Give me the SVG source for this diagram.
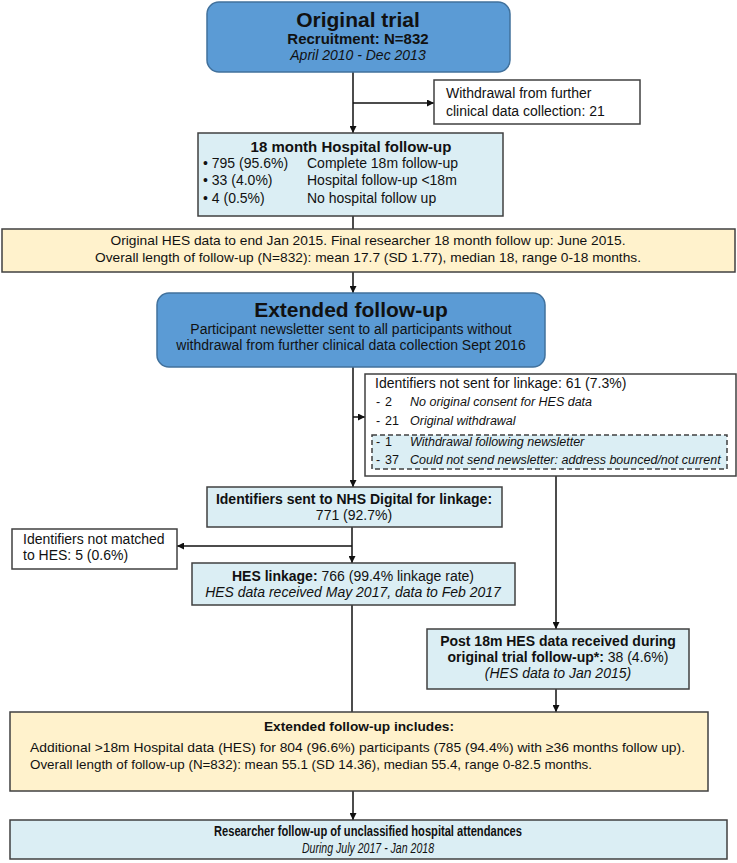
<svg xmlns="http://www.w3.org/2000/svg" width="737" height="863" viewBox="0 0 737 863">
<style>
text{font-family:"Liberation Sans",Arial,sans-serif;fill:#111}
.blue{fill:#5b9bd5;stroke:#41719c;stroke-width:1.5}
.lb{fill:#dbeef4;stroke:#404040;stroke-width:1.5}
.yl{fill:#fff2cc;stroke:#404040;stroke-width:1.5}
.wh{fill:#fff;stroke:#404040;stroke-width:1.5}
.dash{fill:#dbeef4;stroke:#404040;stroke-width:1.5;stroke-dasharray:5,3}
.c{stroke:#111;stroke-width:1.5;fill:none}
.b{font-weight:bold}
.i{font-style:italic}
.m{text-anchor:middle}
</style>
<defs>
<marker id="ah" viewBox="0 0 10 10" refX="10" refY="5" markerWidth="7" markerHeight="7" markerUnits="userSpaceOnUse" orient="auto">
<path d="M0,0 L10,5 L0,10 z" fill="#111"/>
</marker>
</defs>
<g id="connectors">
<line class="c" x1="353" y1="72" x2="353" y2="133" marker-end="url(#ah)"/>
<line class="c" x1="353" y1="103" x2="434" y2="103" marker-end="url(#ah)"/>
<line class="c" x1="353" y1="216" x2="353" y2="229"/>
<line class="c" x1="353" y1="272" x2="353" y2="293" marker-end="url(#ah)"/>
<line class="c" x1="353" y1="367" x2="353" y2="487" marker-end="url(#ah)"/>
<line class="c" x1="353" y1="417" x2="365" y2="417" marker-end="url(#ah)"/>
<line class="c" x1="352" y1="527" x2="352" y2="563" marker-end="url(#ah)"/>
<line class="c" x1="352" y1="546" x2="177" y2="546" marker-end="url(#ah)"/>
<line class="c" x1="352" y1="605" x2="352" y2="712"/>
<line class="c" x1="556" y1="476" x2="556" y2="629" marker-end="url(#ah)"/>
<line class="c" x1="556" y1="689" x2="556" y2="712" marker-end="url(#ah)"/>
<line class="c" x1="353" y1="791" x2="353" y2="820" marker-end="url(#ah)"/>
</g>
<g id="original">
<rect class="blue" x="207" y="2" width="303" height="70" rx="12"/>
<text class="b m" x="358" y="27" font-size="21">Original trial</text>
<text class="b m" x="358" y="44" font-size="15">Recruitment: N=832</text>
<text class="i m" x="358" y="60" font-size="14">April 2010 - Dec 2013</text>
</g>
<g id="withdrawal">
<rect class="wh" x="434" y="80" width="206" height="44"/>
<text x="446" y="98" font-size="14">Withdrawal from further</text>
<text x="446" y="116" font-size="14">clinical data collection: 21</text>
</g>
<g id="hospital18">
<rect class="lb" x="198" y="133" width="305" height="83"/>
<text class="b m" x="351" y="152" font-size="15">18 month Hospital follow-up</text>
<text x="203" y="168" font-size="14">• 795 (95.6%)</text>
<text x="307" y="168" font-size="14">Complete 18m follow-up</text>
<text x="203" y="185" font-size="14">• 33 (4.0%)</text>
<text x="307" y="185" font-size="14">Hospital follow-up &lt;18m</text>
<text x="203" y="203" font-size="14">• 4 (0.5%)</text>
<text x="307" y="203" font-size="14">No hospital follow up</text>
</g>
<g id="original-hes">
<rect class="yl" x="2" y="229" width="733" height="43"/>
<text class="m" x="368" y="245" font-size="13" textLength="515" lengthAdjust="spacingAndGlyphs">Original HES data to end Jan 2015. Final researcher 18 month follow up: June 2015.</text>
<text class="m" x="368" y="262" font-size="13" textLength="546" lengthAdjust="spacingAndGlyphs">Overall length of follow-up (N=832): mean 17.7 (SD 1.77), median 18, range 0-18 months.</text>
</g>
<g id="extended">
<rect class="blue" x="157" y="293" width="388" height="74" rx="12"/>
<text class="b m" x="351" y="317" font-size="21">Extended follow-up</text>
<text class="m" x="351" y="334" font-size="14">Participant newsletter sent to all participants without</text>
<text class="m" x="351" y="350" font-size="14">withdrawal from further clinical data collection Sept 2016</text>
</g>
<g id="not-sent">
<rect class="wh" x="365" y="374" width="371" height="102"/>
<text x="375" y="388" font-size="14">Identifiers not sent for linkage: 61 (7.3%)</text>
<rect class="dash" x="372" y="435" width="355" height="34"/>
<g font-size="12.5">
<text x="376" y="406">-</text><text x="385" y="406">2</text><text class="i" x="410" y="406">No original consent for HES data</text>
<text x="376" y="425">-</text><text x="385" y="425">21</text><text class="i" x="410" y="425">Original withdrawal</text>
<text x="376" y="446">-</text><text x="385" y="446">1</text><text class="i" x="410" y="446">Withdrawal following newsletter</text>
<text x="376" y="464">-</text><text x="385" y="464">37</text><text class="i" x="410" y="464">Could not send newsletter: address bounced/not current</text>
</g>
</g>
<g id="sent">
<rect class="lb" x="207" y="487" width="295" height="40"/>
<text class="b m" x="354" y="504" font-size="14">Identifiers sent to NHS Digital for linkage:</text>
<text class="m" x="354" y="520" font-size="14">771 (92.7%)</text>
</g>
<g id="not-matched">
<rect class="wh" x="12" y="529" width="165" height="40"/>
<text x="23" y="544" font-size="14">Identifiers not matched</text>
<text x="23" y="560" font-size="14">to HES: 5 (0.6%)</text>
</g>
<g id="hes-linkage">
<rect class="lb" x="192" y="563" width="323" height="42"/>
<text class="m" x="353" y="581" font-size="14"><tspan class="b">HES linkage:</tspan> 766 (99.4% linkage rate)</text>
<text class="i m" x="353" y="597" font-size="14">HES data received May 2017, data to Feb 2017</text>
</g>
<g id="post18">
<rect class="lb" x="427" y="629" width="262" height="60"/>
<text class="b m" x="558" y="646" font-size="14">Post 18m HES data received during</text>
<text class="m" x="558" y="662" font-size="14"><tspan class="b">original trial follow-up*:</tspan> 38 (4.6%)</text>
<text class="i m" x="558" y="678" font-size="14">(HES data to Jan 2015)</text>
</g>
<g id="extended-includes">
<rect class="yl" x="10" y="712" width="698" height="79"/>
<text class="b m" x="359" y="731" font-size="13.5" textLength="190" lengthAdjust="spacingAndGlyphs">Extended follow-up includes:</text>
<text x="30" y="752" font-size="13.5" textLength="655" lengthAdjust="spacingAndGlyphs">Additional &gt;18m Hospital data (HES) for 804 (96.6%) participants (785 (94.4%) with ≥36 months follow up).</text>
<text x="30" y="769" font-size="13.5" textLength="562" lengthAdjust="spacingAndGlyphs">Overall length of follow-up (N=832): mean 55.1 (SD 14.36), median 55.4, range 0-82.5 months.</text>
</g>
<g id="researcher">
<rect class="lb" x="10" y="820" width="717" height="39"/>
<text class="b m" x="368" y="836" font-size="14" textLength="308" lengthAdjust="spacingAndGlyphs">Researcher follow-up of unclassified hospital attendances</text>
<text class="i m" x="368" y="853" font-size="14" textLength="132" lengthAdjust="spacingAndGlyphs">During July 2017 - Jan 2018</text>
</g>
</svg>
